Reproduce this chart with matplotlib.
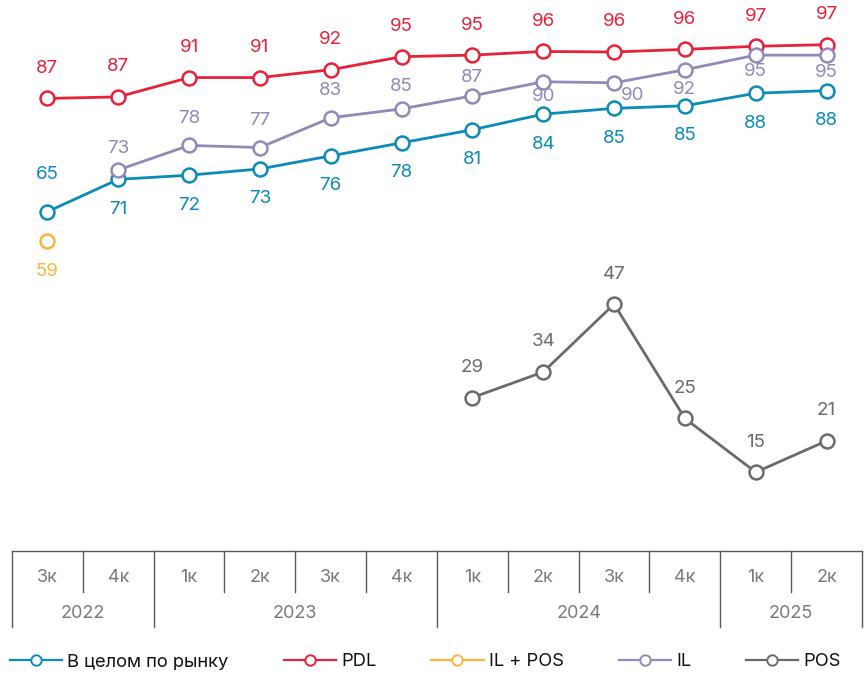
import matplotlib
matplotlib.use("Agg")
import matplotlib.pyplot as plt
from matplotlib.lines import Line2D
import numpy as np

plt.rcParams['font.family'] = ['Inter', 'DejaVu Sans']

quarters = ['3к', '4к', '1к', '2к', '3к', '4к', '1к', '2к', '3к', '4к', '1к', '2к']
years = ['2022', '2023', '2024', '2025']
year_spans = [(0, 1), (2, 5), (6, 9), (10, 11)]

market = [64.9, 71.1, 71.9, 73.1, 75.6, 78.1, 80.6, 83.6, 84.7, 85.2, 87.6, 88.1]
pdl = [86.6, 86.9, 90.6, 90.6, 92.1, 94.6, 94.9, 95.6, 95.5, 96.0, 96.6, 96.9]
il_pos = [59.2] + [np.nan] * 11
il = [np.nan, 72.9, 77.6, 77.2, 82.9, 84.6, 87.1, 89.8, 89.6, 92.1, 94.9, 94.9]
pos = [np.nan] * 6 + [29.3, 34.2, 47.2, 25.3, 15.0, 21.0]

c_market = '#0b8bb8'
c_pdl = '#e6223a'
c_ilpos = '#fbb53c'
c_il = '#9389b9'
c_pos = '#6b6b6b'
c_axis = '#5a5a5a'
c_tick = '#7a7a7a'

fig = plt.figure(figsize=(8.67, 6.77), dpi=100)
ax = fig.add_axes([12 / 867, (677 - 550.5) / 677, 850 / 867, 550.5 / 677])
x = np.arange(len(quarters))

series = [
    (market, c_market, 'В целом по рынку'),
    (pdl, c_pdl, 'PDL'),
    (il_pos, c_ilpos, 'IL + POS'),
    (il, c_il, 'IL'),
    (pos, c_pos, 'POS'),
]
handles = []
for vals, col, name in series:
    ax.plot(x, vals, color=col, lw=2.0, marker='o', ms=10, mfc='white',
            mec=col, mew=1.8, zorder=3, clip_on=False)
    handles.append(Line2D([0], [0], color=col, lw=1.6, marker='o', ms=7.5,
                          mfc='white', mec=col, mew=1.4, label=name))

fs = 13.5
def lab(vals, col, offs, dx=None):
    for i, v in enumerate(vals):
        if np.isnan(v):
            continue
        ox = dx[i] if dx else 0
        ax.annotate(f'{v:.0f}', (i, v), xytext=(ox, offs[i]),
                    textcoords='offset pixels', ha='center', va='center',
                    color=col, fontsize=fs)

lab(market, c_market, [37] + [-30] * 11)
lab(pdl, c_pdl, [30] * 12)
lab(il_pos, c_ilpos, [-30] + [0] * 11)
lab(il, c_il, [0, 21, 27, 27, 27, 22, 18, -15, -13, -20, -16, -17],
    dx=[0] * 8 + [19, 0, 0, 0])
lab(pos, c_pos, [30] * 12)

ax.set_xlim(-0.5, len(quarters) - 0.5)
ax.set_ylim(0, 550.5 / 5.22)
for s in ['top', 'left', 'right']:
    ax.spines[s].set_visible(False)
ax.spines['bottom'].set_color(c_axis)
ax.spines['bottom'].set_linewidth(1)
ax.set_xticks([])
ax.set_yticks([])

# category table under the axis
tr = ax.get_xaxis_transform()
h_q = -41.5 / 550.5
h_y = -76.5 / 550.5
year_edges = [s[0] - 0.5 for s in year_spans] + [year_spans[-1][1] + 0.5]
for i in range(len(quarters) + 1):
    xe = i - 0.5
    bottom = h_y if xe in year_edges else h_q
    ax.plot([xe, xe], [0, bottom], transform=tr, color=c_axis, lw=1,
            clip_on=False)
for i, q in enumerate(quarters):
    ax.text(i, -26.5 / 550.5, q, transform=tr, ha='center', va='center',
            color=c_tick, fontsize=13)
for (a, b), yr in zip(year_spans, years):
    ax.text((a + b) / 2, -62.5 / 550.5, yr, transform=tr, ha='center',
            va='center', color=c_tick, fontsize=13)

fig.legend(handles=handles, loc='center left',
           bbox_to_anchor=(10 / 867, 1 - 662 / 677),
           ncol=5, frameon=False, fontsize=13.2, handlelength=2.85,
           handletextpad=0.28, columnspacing=3.0, borderpad=0,
           borderaxespad=0, labelcolor='#111111')

fig.savefig('out.png', dpi=100)
